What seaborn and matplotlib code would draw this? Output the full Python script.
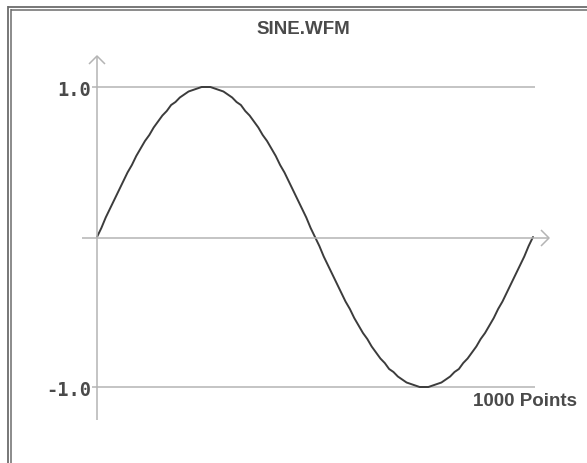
import matplotlib
matplotlib.use("Agg")
import matplotlib.pyplot as plt
import seaborn as sns
import pandas as pd
from matplotlib.lines import Line2D
from matplotlib.transforms import IdentityTransform

sample_index = list(range(0, 1001, 10))
first_half = [0.00, 0.06, 0.13, 0.19, 0.25, 0.31, 0.37, 0.43, 0.48, 0.54,
              0.59, 0.64, 0.68, 0.73, 0.77, 0.81, 0.84, 0.88, 0.90, 0.93,
              0.95, 0.97, 0.98, 0.99, 1.00, 1.00, 1.00, 0.99, 0.98, 0.97,
              0.95, 0.93, 0.90, 0.88, 0.84, 0.81, 0.77, 0.73, 0.68, 0.64,
              0.59, 0.54, 0.48, 0.43, 0.37, 0.31, 0.25, 0.19, 0.13, 0.06]
second_half = [0.00, -0.06, -0.13, -0.19, -0.25, -0.31, -0.37, -0.43, -0.48, -0.54,
               -0.59, -0.64, -0.68, -0.73, -0.77, -0.81, -0.84, -0.88, -0.90, -0.93,
               -0.95, -0.97, -0.98, -0.99, -1.00, -1.00, -1.00, -0.99, -0.98, -0.97,
               -0.95, -0.93, -0.90, -0.88, -0.84, -0.81, -0.77, -0.73, -0.68, -0.64,
               -0.59, -0.54, -0.48, -0.43, -0.37, -0.31, -0.25, -0.19, -0.13, -0.06,
               0.00]
amplitude = first_half + second_half
title_text = "SINE.WFM"
y_tick_values = [1.0, -1.0]
y_tick_labels = ["1.0", "-1.0"]
x_label_text = "1000 Points"

W, H = 587, 464
sns.set_style("white")
fig = plt.figure(figsize=(W / 100, H / 100), dpi=100)
fig.patch.set_facecolor("white")

# axes occupying the data area (pixel measurements from the reference)
L, R, T, B = 97, 533, 88, 388
ax = fig.add_axes([L / W, (H - B) / H, (R - L) / W, (B - T) / H])
ax.set_xlim(0, 1000)
ax.set_ylim(-1, 1)
ax.axis("off")


def add_px_line(xs, ys, color, lw=1.1):
    dy = [H - y for y in ys]
    fig.add_artist(Line2D(list(xs), dy, transform=IdentityTransform(), color=color,
                          linewidth=lw, solid_capstyle="butt"))


grid_c = "#b4b4b4"
# horizontal reference lines at +/-1
for v in y_tick_values:
    ax.hlines(v, -5 / 436 * 1000, 1000 + 2 / 436 * 1000, color=grid_c, lw=1.1,
              clip_on=False, zorder=1)
# zero axis with arrow
add_px_line([82, 549], [239, 239], grid_c)
add_px_line([541, 549, 541], [231, 239, 247], grid_c)
# vertical axis with arrow
add_px_line([97, 97], [57, 421], grid_c)
add_px_line([89, 97, 105], [65, 57, 65], grid_c)

# frame (double border, cropped at right/bottom)
frame_c = "#6c6c6c"
add_px_line([8, 8], [7, 470], frame_c, lw=1.3)
add_px_line([11, 11], [10, 470], frame_c, lw=1.1)
add_px_line([8, 600], [7.5, 7.5], frame_c, lw=1.3)
add_px_line([11, 600], [10.5, 10.5], frame_c, lw=1.1)

# the waveform
df = pd.DataFrame({"idx": sample_index, "val": amplitude})
sns.lineplot(data=df, x="idx", y="val", ax=ax, color="#3c3c3c", linewidth=1.4,
             clip_on=False, zorder=3)

txt_c = "#4a4a4a"
for v, lab in zip(y_tick_values, y_tick_labels):
    ax.text(-6 / 436 * 1000, v, lab, ha="right", va="center_baseline",
            fontsize=13.5, family="DejaVu Sans Mono", fontweight="bold",
            color=txt_c, clip_on=False)

fig.text(303 / W, 1 - 29 / H, title_text, ha="center", va="center",
         fontsize=13.5, fontweight="bold", family="Liberation Sans", color=txt_c)
fig.text(577 / W, 1 - 402 / H, x_label_text, ha="right", va="center",
         fontsize=13.5, fontweight="bold", family="Liberation Sans", color=txt_c)

fig.savefig("out.png", dpi=100, facecolor="white")
